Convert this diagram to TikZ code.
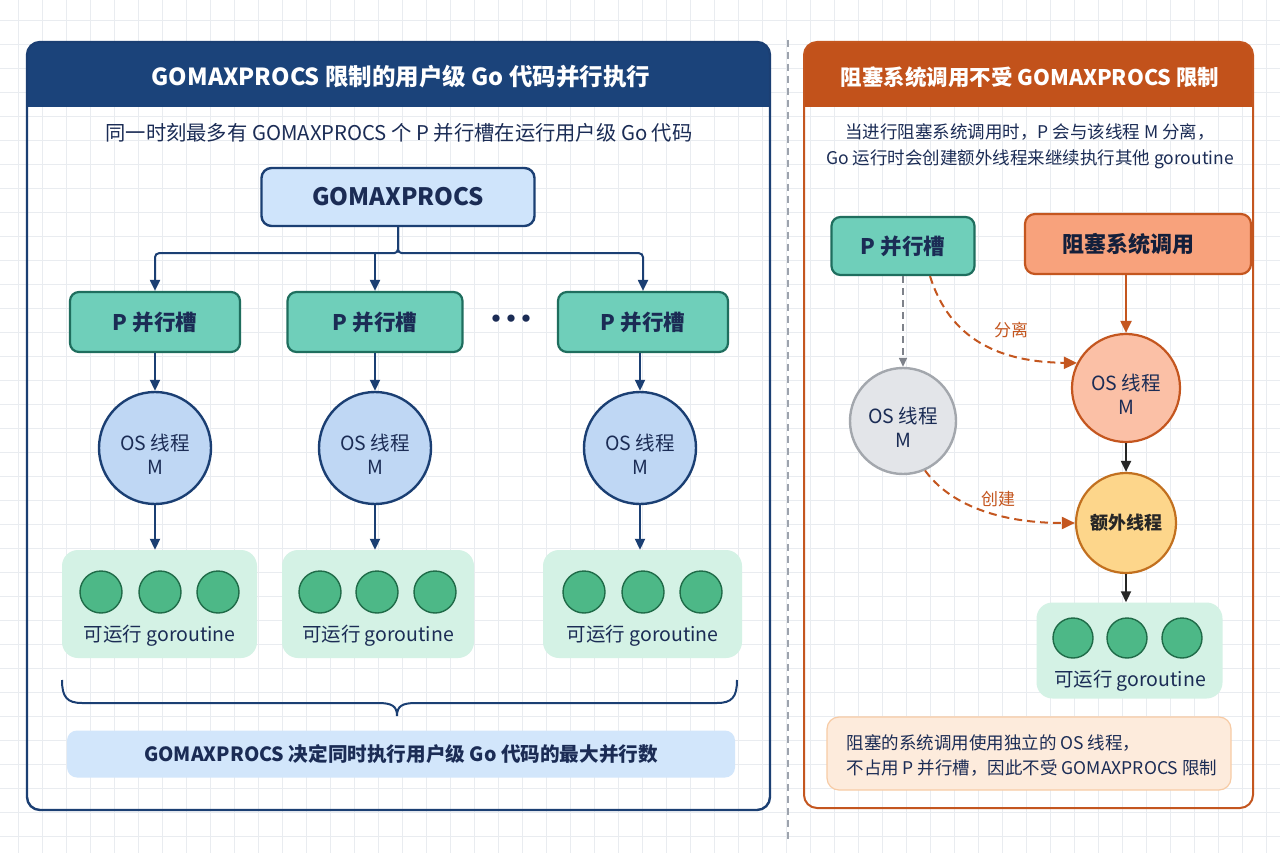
\documentclass[tikz,border=0pt]{standalone}
\usepackage{fontspec}
\setmainfont{Noto Sans CJK SC}
\usetikzlibrary{arrows.meta,calc}
\definecolor{navy}{HTML}{1B3F73}
\definecolor{hblue}{HTML}{1B437A}
\definecolor{tnavy}{HTML}{1B2C55}
\definecolor{tealf}{HTML}{6FCFBA}
\definecolor{tealb}{HTML}{1F6E5E}
\definecolor{cblue}{HTML}{BFD7F4}
\definecolor{bblue}{HTML}{CFE4FB}
\definecolor{mint}{HTML}{D4F2E5}
\definecolor{gdot}{HTML}{4DB887}
\definecolor{gdotb}{HTML}{1F6B48}
\definecolor{horange}{HTML}{C2521B}
\definecolor{oborder}{HTML}{C4561F}
\definecolor{salbox}{HTML}{F8A27C}
\definecolor{salcirc}{HTML}{FBC0A6}
\definecolor{yelf}{HTML}{FDD68B}
\definecolor{yelb}{HTML}{C2701F}
\definecolor{grayf}{HTML}{E3E5E9}
\definecolor{grayb}{HTML}{A3A7AD}
\definecolor{notef}{HTML}{FDEBDC}
\definecolor{noteb}{HTML}{F7CBA5}
\definecolor{botf}{HTML}{D2E6FB}
\definecolor{gridc}{HTML}{E9ECF0}
\definecolor{divc}{HTML}{9DA3AD}
\tikzset{
  pbox/.style={draw=tealb, fill=tealf, line width=2.2pt, rounded corners=9pt, minimum height=60pt, text=tnavy, font=\fontsize{21.5}{25}\bfseries\selectfont},
  mcirc/.style={circle, draw=navy, fill=cblue, line width=2.4pt, minimum size=112pt, inner sep=0pt, align=center, text=tnavy, font=\fontsize{19.5}{24}\selectfont},
  gbox/.style={fill=mint, rounded corners=16pt, minimum height=108pt},
  gdotn/.style={circle, draw=gdotb, fill=gdot, line width=1.4pt, minimum size=42pt, inner sep=0pt},
  glab/.style={text=tnavy, font=\fontsize{19.5}{23}\selectfont},
  arr/.style={draw=navy, line width=2pt, -{Triangle[length=11pt,width=10pt]}},
  oarr/.style={draw=oborder, line width=2pt, dash pattern=on 8pt off 5pt, -{Triangle[length=13pt,width=12pt]}},
}
\newcommand{\lowstrut}{\rule{0pt}{28pt}}
\begin{document}
\begin{tikzpicture}[x=1pt,y=-1pt]
\useasboundingbox (0,0) rectangle (1280,853);
\fill[white] (0,0) rectangle (1280,853);
\foreach \gx in {18,42,...,1280} \draw[gridc, line width=0.8pt] (\gx,0) -- (\gx,853);
\foreach \gy in {20,44,...,853} \draw[gridc, line width=0.8pt] (0,\gy) -- (1280,\gy);

% divider
\draw[divc, line width=1.5pt, dash pattern=on 7pt off 5pt] (788,40) -- (788,842);

% ---------- left panel ----------
\fill[hblue] (27,107) [rounded corners=13pt] -- (27,42) -- (770,42) [sharp corners] -- (770,107) -- cycle;
\draw[navy, line width=2.4pt, rounded corners=13pt] (27,42) rectangle (770,810);
\node[text=white, font=\fontsize{23.5}{27}\bfseries\selectfont] (ltitle) at (401,77) {GOMAXPROCS 限制的用户级 Go 代码并行执行};
\node[text=tnavy, font=\fontsize{20.3}{24}\selectfont] (lsub) at (399,133) {同一时刻最多有 GOMAXPROCS 个 P 并行槽在运行用户级 Go 代码};

\node[draw=navy, fill=bblue, line width=2.4pt, rounded corners=10pt, minimum width=273pt, minimum height=58pt, text=tnavy, font=\fontsize{24}{28}\bfseries\selectfont] (gmp) at (398,197) {GOMAXPROCS};

\node[pbox, minimum width=170pt] (p1) at (155,322) {P 并行槽};
\node[pbox, minimum width=175pt] (p2) at (375,322) {P 并行槽};
\node[pbox, minimum width=170pt] (p3) at (643,322) {P 并行槽};
\node[text=tnavy, font=\fontsize{26}{28}\bfseries\selectfont] (dots) at (511,322) {·\kern-11pt·\kern-11pt·};

\draw[arr, rounded corners=4pt] (gmp.south) -- ++(0,26) -| (p1.north);
\draw[arr, rounded corners=4pt] (gmp.south) -- ++(0,26) -| (p3.north);
\draw[arr] (p2.north |- 0,252) -- (p2.north);

\node[mcirc] (m1) at (155,448) {\lowstrut OS 线程\\M};
\node[mcirc] (m2) at (375,448) {\lowstrut OS 线程\\M};
\node[mcirc] (m3) at (640,448) {\lowstrut OS 线程\\M};
\draw[arr] (p1.south) -- (m1.north);
\draw[arr] (p2.south) -- (m2.north);
\draw[arr] (p3.south -| m3.north) -- (m3.north);

\node[gbox, minimum width=195pt] (g1) at (159.5,604) {};
\node[gbox, minimum width=192pt] (g2) at (378,604) {};
\node[gbox, minimum width=199pt] (g3) at (642.5,604) {};
\draw[arr] (m1.south) -- (m1.south |- g1.north);
\draw[arr] (m2.south) -- (m2.south |- g2.north);
\draw[arr] (m3.south) -- (m3.south |- g3.north);

\foreach \nm/\cx/\ca/\cb/\cc in {g1/159.5/101/160/218, g2/378/320/377/435, g3/642.5/584/643/701}{
  \node[gdotn] (\nm a) at (\ca,592) {};
  \node[gdotn] (\nm b) at (\cb,592) {};
  \node[gdotn] (\nm c) at (\cc,592) {};
  \node[glab] (\nm l) at (\cx,636) {可运行 goroutine};
}

% brace
\draw[navy, line width=2pt] (62,680) .. controls (62,697) and (67,703) .. (82,703) -- (378,703) .. controls (392,703) and (397,706) .. (397,716) .. controls (397,706) and (402,703) .. (416,703) -- (717,703) .. controls (732,703) and (737,697) .. (737,680);

\node[fill=botf, rounded corners=10pt, minimum width=668pt, minimum height=47pt, text=tnavy, font=\fontsize{19.6}{24}\bfseries\selectfont] (bot) at (401,754) {GOMAXPROCS 决定同时执行用户级 Go 代码的最大并行数};

% ---------- right panel ----------
\fill[horange] (804,107) [rounded corners=13pt] -- (804,42) -- (1253,42) [sharp corners] -- (1253,107) -- cycle;
\draw[oborder, line width=2pt, rounded corners=13pt] (804,42) rectangle (1253,808);
\node[text=white, font=\fontsize{21.5}{26}\bfseries\selectfont] (rtitle) at (1030,77) {阻塞系统调用不受 GOMAXPROCS 限制};
\node[text=tnavy, align=center, font=\fontsize{17.5}{26}\selectfont] (rsub) at (1030,146) {当进行阻塞系统调用时，P 会与该线程 M 分离，\\Go 运行时会创建额外线程来继续执行其他 goroutine};

\node[pbox, minimum width=143pt, minimum height=58pt] (pr) at (903,246) {P 并行槽};
\node[draw=oborder, fill=salbox, line width=2.2pt, rounded corners=10pt, minimum width=226pt, minimum height=60pt, text=tnavy!70!black, font=\fontsize{22}{26}\bfseries\selectfont] (blk) at (1138,244) {阻塞系统调用\kern20pt\null};

\node[mcirc, draw=grayb, fill=grayf, minimum size=106pt] (mg) at (903,421) {\lowstrut OS 线程\\M};
\node[mcirc, draw=oborder, fill=salcirc, minimum size=108pt, line width=2.2pt] (mr) at (1126,388) {\lowstrut OS 线程\\M};
\node[circle, draw=yelb, fill=yelf, line width=2.2pt, minimum size=100pt, inner sep=0pt, text=black!85, font=\fontsize{18}{22}\bfseries\selectfont] (my) at (1126,523) {额外线程};

\draw[draw=divc!80!black, line width=1.6pt, dash pattern=on 7pt off 5pt, -{Triangle[length=9pt,width=8pt]}] (pr.south) -- (mg.north);
\draw[draw=oborder, line width=2pt, -{Triangle[length=12pt,width=11pt]}] (blk.south -| mr.north) -- (mr.north);
\draw[draw=black!85, line width=2pt, -{Triangle[length=11pt,width=10pt]}] (mr.south) -- (my.north);

\draw[oarr] ([xshift=27pt]pr.south) .. controls (950,340) and (1000,362) .. (mr.153);
\node[text=oborder, font=\fontsize{17}{20}\selectfont] (lsep) at (1011,330) {分离};
\draw[oarr] (mg.-66) .. controls (950,505) and (1000,523) .. (my.west);
\node[text=oborder, font=\fontsize{17}{20}\selectfont] (lcre) at (998,499) {创建};

\node[gbox, minimum width=186pt, minimum height=96pt] (gr) at (1129.5,650.5) {};
\draw[draw=black!85, line width=2pt, -{Triangle[length=11pt,width=10pt]}] (my.south) -- (my.south |- gr.north);
\node[gdotn, minimum size=40pt] (gra) at (1073,638) {};
\node[gdotn, minimum size=40pt] (grb) at (1127,638) {};
\node[gdotn, minimum size=40pt] (grc) at (1182,638) {};
\node[glab] (grl) at (1130,681) {可运行 goroutine};

\node[draw=noteb, fill=notef, line width=1.2pt, rounded corners=12pt, minimum width=404pt, minimum height=73pt] (note) at (1029,753.5) {};
\node[anchor=west, text=tnavy, align=left, font=\fontsize{17.5}{25}\selectfont] (notet) at (843,756) {阻塞的系统调用使用独立的 OS 线程，\\不占用 P 并行槽，因此不受 GOMAXPROCS 限制};
\end{tikzpicture}
\end{document}
